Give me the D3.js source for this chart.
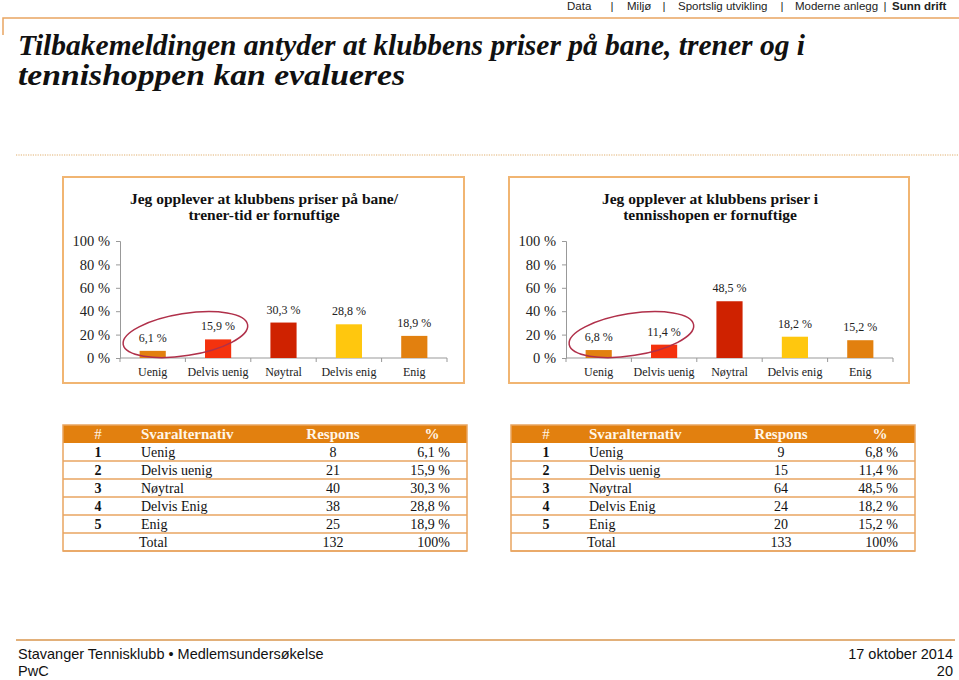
<!DOCTYPE html>
<html><head><meta charset="utf-8">
<script src="https://cdn.jsdelivr.net/npm/d3@7"></script>
<style>body{margin:0;background:#fff}svg{display:block}</style>
</head><body><svg id="c" width="959" height="680"></svg>
<script>
// ---- data ----
const navItems = ["Data","Miljø","Sportslig utvikling","Moderne anlegg","Sunn drift"];
const titleLines = ["Tilbakemeldingen antyder at klubbens priser på bane, trener og i","tennishoppen kan evalueres"];
const categories = ["Uenig","Delvis uenig","Nøytral","Delvis enig","Enig"];
const tableLabels = ["Uenig","Delvis uenig","Nøytral","Delvis Enig","Enig"];
const yTicks = [0,20,40,60,80,100];
const barColors = ["#E2800F","#F4320E","#CF2200","#FFC70E","#E2800F"];
const chart1Title = ["Jeg opplever at klubbens priser på bane/","trener-tid er fornuftige"];
const chart1Values = [6.1,15.9,30.3,28.8,18.9];
const chart1Responses = [8,21,40,38,25];
const chart1Total = 132;
const chart2Title = ["Jeg opplever at klubbens priser i","tennisshopen er fornuftige"];
const chart2Values = [6.8,11.4,48.5,18.2,15.2];
const chart2Responses = [9,15,64,24,20];
const chart2Total = 133;
const tableHeaders = ["#","Svaralternativ","Respons","%"];
const footerLeft = ["Stavanger Tennisklubb • Medlemsundersøkelse","PwC"];
const footerRight = ["17 oktober 2014","20"];

const svg = d3.select("#c");
const serif = "'Liberation Serif','DejaVu Serif',serif";
const sans = "'Liberation Sans',Arial,sans-serif";
const fmt = v => d3.format(".1f")(v).replace(".", ",") + " %";

// ---- nav ----
const navX = [567,627,678,795,892];
const sepX = [612,664,782,885];
navItems.forEach((t,i)=>{
  svg.append("text").attr("x",navX[i]).attr("y",10).attr("font-family",sans)
    .attr("font-size",11.5).attr("font-weight",i===4?"bold":"normal").attr("fill","#222").text(t);
});
sepX.forEach(x=>svg.append("text").attr("x",x).attr("y",10).attr("font-family",sans)
  .attr("font-size",11.5).attr("fill","#222").attr("text-anchor","middle").text("|"));

// header rule
svg.append("path").attr("d","M3,35 V18 H959").attr("fill","none").attr("stroke","#E9A561").attr("stroke-width",1.5);

// title
const tw = [787, 387];
titleLines.forEach((t,i)=>{
  svg.append("text").attr("x",18).attr("y",55+i*30).attr("font-family",serif)
    .attr("font-size",30).attr("font-weight","bold").attr("font-style","italic").attr("fill","#111")
    .attr("textLength",tw[i]).attr("lengthAdjust","spacingAndGlyphs").text(t);
});

// dotted rule
svg.append("line").attr("x1",16).attr("x2",959).attr("y1",155).attr("y2",155)
  .attr("stroke","#E0B070").attr("stroke-width",1.2).attr("stroke-dasharray","1.2,1.2");

function drawChart(bx, bw, title, values){
  const by = 177, bh = 206;
  const g = svg.append("g");
  g.append("rect").attr("x",bx).attr("y",by).attr("width",bw).attr("height",bh)
    .attr("fill","#fff").attr("stroke","#F1B572").attr("stroke-width",2);
  const x0 = bx+57, x1 = x0+327;
  const x = d3.scaleBand().domain(categories).range([x0,x1]).paddingInner(0.6).paddingOuter(0.3);
  const xb = d3.scaleBand().domain(categories).range([x0,x1]);
  const y = d3.scaleLinear().domain([0,100]).range([358,241]);
  title.forEach((t,i)=>g.append("text").attr("x",bx+201).attr("y",204+i*16).attr("text-anchor","middle")
    .attr("font-family",serif).attr("font-size",15.5).attr("font-weight","bold").attr("fill","#111").text(t));
  // y axis
  const ya = d3.axisLeft(y).tickValues(yTicks).tickSize(4).tickFormat(d=>d+" %");
  const yg = g.append("g").attr("transform",`translate(${x0},0)`).call(ya);
  yg.select(".domain").attr("stroke","#999");
  yg.selectAll(".tick line").attr("stroke","#999");
  yg.selectAll(".tick text").attr("x",-10).attr("font-family",serif).attr("font-size",14.5).attr("fill","#222");
  // x axis
  const xg = g.append("g").attr("transform","translate(0,358)");
  xg.append("line").attr("x1",x0).attr("x2",x1).attr("stroke","#999");
  xg.selectAll(".tk").data(categories.concat(["_end"])).join("line")
    .attr("x1",(d,i)=>x0+i*xb.bandwidth()).attr("x2",(d,i)=>x0+i*xb.bandwidth())
    .attr("y1",0).attr("y2",4).attr("stroke","#999");
  xg.selectAll(".cl").data(categories).join("text")
    .attr("x",d=>xb(d)+xb.bandwidth()/2).attr("y",18).attr("text-anchor","middle")
    .attr("font-family",serif).attr("font-size",12).attr("fill","#222").text(d=>d);
  // bars
  g.selectAll(".bar").data(values).join("rect")
    .attr("x",(d,i)=>x(categories[i])).attr("width",x.bandwidth())
    .attr("y",d=>y(d)).attr("height",d=>y(0)-y(d)).attr("fill",(d,i)=>barColors[i]);
  g.selectAll(".lbl").data(values).join("text")
    .attr("x",(d,i)=>x(categories[i])+x.bandwidth()/2).attr("y",d=>y(d)-9)
    .attr("text-anchor","middle").attr("font-family",serif).attr("font-size",12).attr("fill","#222")
    .text(fmt);
  // ellipse around first two
  const cx = (xb(categories[0])+xb(categories[1])+xb.bandwidth())/2;
  const cy = y(20);
  g.append("ellipse").attr("cx",cx).attr("cy",cy).attr("rx",63).attr("ry",21)
    .attr("transform",`rotate(-9,${cx},${cy})`)
    .attr("fill","none").attr("stroke","#B0304A").attr("stroke-width",1.5);
}
drawChart(63,401,chart1Title,chart1Values);
drawChart(509,400,chart2Title,chart2Values);

function drawTable(tx, values, responses, total){
  const ty = 425, w = 404, hh = 18, rh = 18;
  const g = svg.append("g");
  const orange = "#E2800F", line = "#E9A560";
  g.append("rect").attr("x",tx).attr("y",ty).attr("width",w).attr("height",hh).attr("fill",orange);
  const cols = [35,78,270,369];
  const anchors = ["middle","start","middle","middle"];
  tableHeaders.forEach((h,i)=>g.append("text").attr("x",tx+cols[i]).attr("y",ty+14)
    .attr("text-anchor",anchors[i]).attr("font-family",serif).attr("font-size",15)
    .attr("font-weight",i===0?"normal":"bold").attr("fill","#FFF6E8").text(h));
  const rows = values.map((v,i)=>({n:i+1,label:tableLabels[i],r:responses[i],p:fmt(v)}));
  rows.push({n:"",label:"Total",r:total,p:"100%"});
  rows.forEach((r,i)=>{
    const yy = ty+hh+i*rh;
    g.append("line").attr("x1",tx).attr("x2",tx+w).attr("y1",yy+rh).attr("y2",yy+rh).attr("stroke",line).attr("stroke-width",1.5);
    const isTotal = r.label==="Total";
    g.append("text").attr("x",tx+cols[0]).attr("y",yy+14).attr("text-anchor","middle")
      .attr("font-family",serif).attr("font-size",14).attr("font-weight","bold").attr("fill","#111").text(r.n);
    g.append("text").attr("x",tx+(isTotal?76:78)).attr("y",yy+14)
      .attr("font-family",serif).attr("font-size",14).attr("fill","#111").text(r.label);
    g.append("text").attr("x",tx+cols[2]).attr("y",yy+14).attr("text-anchor","middle")
      .attr("font-family",serif).attr("font-size",14).attr("fill","#111").text(r.r);
    g.append("text").attr("x",tx+387).attr("y",yy+14).attr("text-anchor","end")
      .attr("font-family",serif).attr("font-size",14).attr("fill","#111").text(r.p);
  });
  g.append("rect").attr("x",tx).attr("y",ty).attr("width",w).attr("height",hh+rows.length*rh)
    .attr("fill","none").attr("stroke",line).attr("stroke-width",1.5);
}
drawTable(63,chart1Values,chart1Responses,chart1Total);
drawTable(511,chart2Values,chart2Responses,chart2Total);

// footer
svg.append("line").attr("x1",16).attr("x2",955).attr("y1",640).attr("y2",640).attr("stroke","#D9964E").attr("stroke-width",1.5);
footerLeft.forEach((t,i)=>svg.append("text").attr("x",18).attr("y",659+i*17).attr("font-family",sans)
  .attr("font-size",14.5).attr("fill","#111").text(t));
footerRight.forEach((t,i)=>svg.append("text").attr("x",953).attr("y",659+i*17).attr("text-anchor","end")
  .attr("font-family",sans).attr("font-size",14.5).attr("fill","#111").text(t));
</script></body></html>
